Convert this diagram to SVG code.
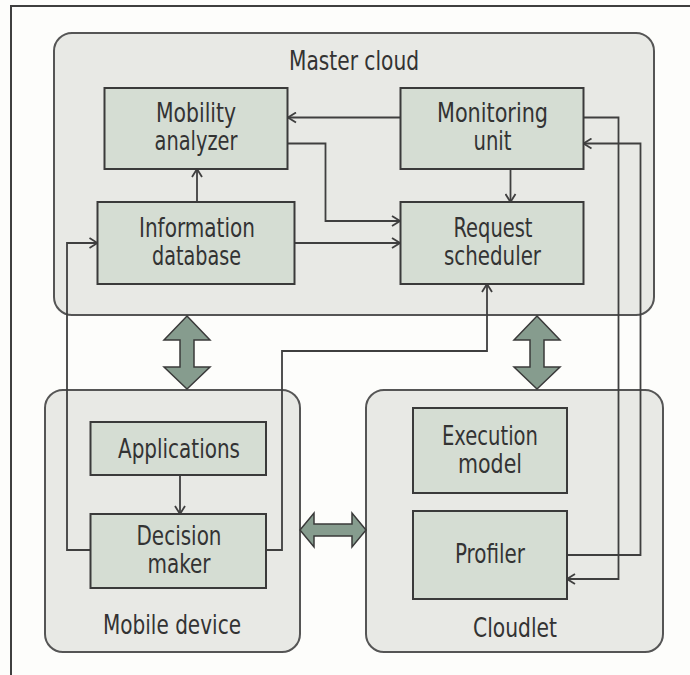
<svg xmlns="http://www.w3.org/2000/svg" width="690" height="675" viewBox="0 0 690 675">
  <defs>
    <style>
      .frame { fill: none; stroke: #3f3f3f; stroke-width: 2; }
      .container { fill: #e8e9e5; stroke: #555; stroke-width: 2; }
      .box { fill: #d5ddd3; stroke: #3a3a3a; stroke-width: 2; }
      .link { fill: none; stroke: #3f3f3f; stroke-width: 1.8; }
      .big { fill: #869c8e; stroke: #3a3a3a; stroke-width: 1.5; stroke-linejoin: miter; }
      text { font-family: "Liberation Sans Narrow", "DejaVu Sans Condensed", "Liberation Sans", sans-serif; font-size: 27px; fill: #333; text-anchor: middle; }
    </style>
    <marker id="open" viewBox="0 0 10 12" refX="9" refY="6" markerWidth="10" markerHeight="12" markerUnits="userSpaceOnUse" orient="auto">
      <path d="M1,1 L9,6 L1,11" fill="none" stroke="#3f3f3f" stroke-width="1.8"/>
    </marker>
  </defs>

  <rect width="690" height="675" fill="#fdfdfb"/>
  <!-- page frame -->
  <path class="frame" d="M11,675 V6 H690"/>

  <!-- containers -->
  <g id="master-cloud">
    <rect class="container" x="54" y="33" width="600" height="282" rx="18"/>
    <text x="354" y="70" textLength="130" lengthAdjust="spacingAndGlyphs">Master cloud</text>
  </g>
  <g id="mobile-device">
    <rect class="container" x="45" y="390" width="255" height="262" rx="18"/>
    <text x="172" y="634" textLength="138" lengthAdjust="spacingAndGlyphs">Mobile device</text>
  </g>
  <g id="cloudlet">
    <rect class="container" x="366" y="390" width="297" height="262" rx="18"/>
    <text x="515" y="637" textLength="84" lengthAdjust="spacingAndGlyphs">Cloudlet</text>
  </g>

  <!-- connectors -->
  <g id="connectors">
    <path class="link" d="M400,117.5 H288" marker-end="url(#open)"/>
    <path class="link" d="M288,143.5 H325.5 V221 H400" marker-end="url(#open)"/>
    <path class="link" d="M294.5,243 H400" marker-end="url(#open)"/>
    <path class="link" d="M197,202 V169" marker-end="url(#open)"/>
    <path class="link" d="M510.5,169 V202" marker-end="url(#open)"/>
    <path class="link" d="M583.5,117.5 H618.5 V579 H567" marker-end="url(#open)"/>
    <path class="link" d="M567,555 H640.5 V143.5 H583.5" marker-end="url(#open)"/>
    <path class="link" d="M90,550 H67 V243 H97.5" marker-end="url(#open)"/>
    <path class="link" d="M266,550 H282 V351 H487 V284" marker-end="url(#open)"/>
    <path class="link" d="M180,475 V514" marker-end="url(#open)"/>
  </g>

  <!-- master cloud components -->
  <g id="mobility-analyzer">
    <rect class="box" x="104.5" y="88" width="183" height="81"/>
    <text x="196" y="122" textLength="80" lengthAdjust="spacingAndGlyphs">Mobility</text>
    <text x="196" y="150" textLength="83" lengthAdjust="spacingAndGlyphs">analyzer</text>
  </g>
  <g id="monitoring-unit">
    <rect class="box" x="400.5" y="88" width="183" height="81"/>
    <text x="492.5" y="122" textLength="111" lengthAdjust="spacingAndGlyphs">Monitoring</text>
    <text x="492.5" y="150" textLength="38" lengthAdjust="spacingAndGlyphs">unit</text>
  </g>
  <g id="information-database">
    <rect class="box" x="97.5" y="202" width="197" height="82"/>
    <text x="197" y="237" textLength="116" lengthAdjust="spacingAndGlyphs">Information</text>
    <text x="196.5" y="265" textLength="89" lengthAdjust="spacingAndGlyphs">database</text>
  </g>
  <g id="request-scheduler">
    <rect class="box" x="400.5" y="202" width="183" height="82"/>
    <text x="493" y="237" textLength="79" lengthAdjust="spacingAndGlyphs">Request</text>
    <text x="492.5" y="265" textLength="97" lengthAdjust="spacingAndGlyphs">scheduler</text>
  </g>

  <!-- mobile device components -->
  <g id="applications">
    <rect class="box" x="90.5" y="422" width="175.5" height="53"/>
    <text x="179" y="458" textLength="122" lengthAdjust="spacingAndGlyphs">Applications</text>
  </g>
  <g id="decision-maker">
    <rect class="box" x="90.5" y="514" width="175.5" height="74"/>
    <text x="179" y="545" textLength="85" lengthAdjust="spacingAndGlyphs">Decision</text>
    <text x="179" y="573" textLength="63" lengthAdjust="spacingAndGlyphs">maker</text>
  </g>

  <!-- cloudlet components -->
  <g id="execution-model">
    <rect class="box" x="413" y="408" width="154" height="85"/>
    <text x="490" y="445" textLength="96" lengthAdjust="spacingAndGlyphs">Execution</text>
    <text x="490" y="473" textLength="64" lengthAdjust="spacingAndGlyphs">model</text>
  </g>
  <g id="profiler">
    <rect class="box" x="413" y="511" width="154" height="88"/>
    <text x="490" y="563" textLength="70" lengthAdjust="spacingAndGlyphs">Profiler</text>
  </g>

  <!-- two-way links between the sites -->
  <g id="site-links">
    <path class="big" d="M187,316 L210,340 H194 V367 H210 L187,389 L164,367 H180 V340 H164 Z"/>
    <path class="big" d="M537,316 L560,340 H544 V367 H560 L537,389 L514,367 H530 V340 H514 Z"/>
    <path class="big" d="M300,530 L314,513 V524 H352 V513 L366,530 L352,547 V536 H314 V547 Z"/>
  </g>
</svg>
